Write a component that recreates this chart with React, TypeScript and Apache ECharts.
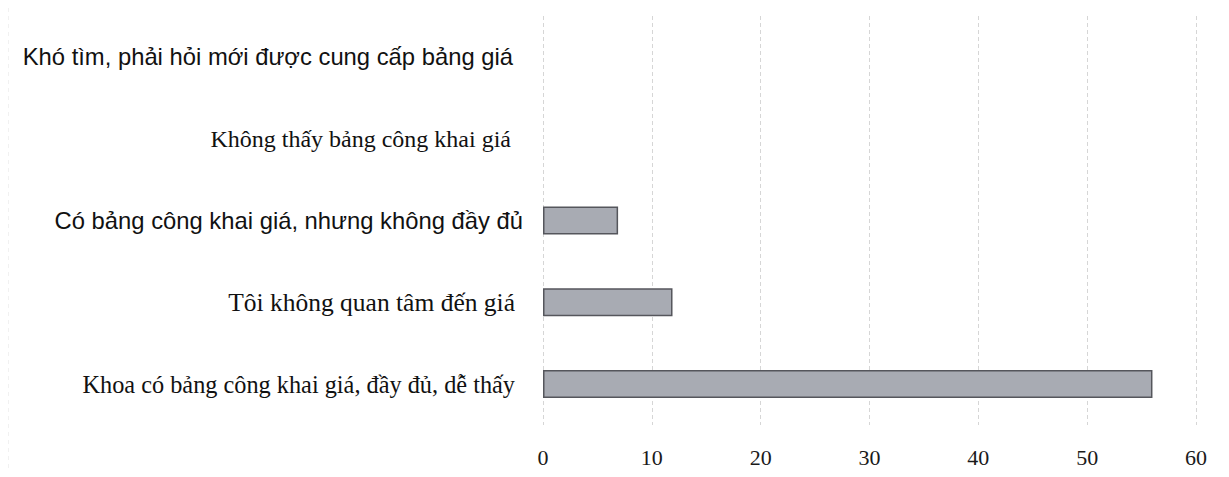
import React, { useEffect, useRef } from "react";
import * as echarts from "echarts";

const categories = [
  "Khoa có bảng công khai giá, đầy đủ, dễ thấy",
  "Tôi không quan tâm đến giá",
  "Có bảng công khai giá, nhưng không đầy đủ",
  "Không thấy bảng công khai giá",
  "Khó tìm, phải hỏi mới được cung cấp bảng giá",
];
const values = [56, 11.9, 6.9, 0, 0];
const sansLabels = [
  "Có bảng công khai giá, nhưng không đầy đủ",
  "Khó tìm, phải hỏi mới được cung cấp bảng giá",
];
const xTicks = [0, 10, 20, 30, 40, 50, 60];

export default function App() {
  const ref = useRef<HTMLDivElement>(null);
  useEffect(() => {
    if (!ref.current) return;
    const chart = echarts.init(ref.current, undefined, { renderer: "svg" });
    const labelStyleKey = (v: string) => {
      if (v === sansLabels[0]) return "s0";
      if (v === sansLabels[1]) return "s1";
      if (v === categories[3]) return "r3";
      if (v === categories[1]) return "r1";
      return "r";
    };
    chart.setOption({
      animation: false,
      backgroundColor: "#ffffff",
      grid: { left: 543, right: 33, top: 16, bottom: 52, containLabel: false },
      xAxis: {
        type: "value",
        min: xTicks[0],
        max: xTicks[xTicks.length - 1],
        interval: 10,
        axisLine: { show: false },
        axisTick: { show: false },
        axisLabel: {
          margin: 21,
          color: "#1a1a1a",
          fontFamily: "Liberation Serif",
          fontSize: 22,
        },
        splitLine: {
          show: true,
          lineStyle: { color: "#d6d6d6", type: [4, 3], width: 1 },
        },
      },
      yAxis: {
        type: "category",
        data: categories,
        axisLine: { show: false },
        axisTick: { show: false },
        axisLabel: {
          margin: 20,
          formatter: (v: string) => `{${labelStyleKey(v)}|${v}}`,
          rich: {
            s0: { fontFamily: "Liberation Sans", fontSize: 23.8, color: "#111", padding: [0, 0, 0, 0] },
            s1: { fontFamily: "Liberation Sans", fontSize: 23.8, color: "#111", padding: [0, 10, 0, 0] },
            r: { fontFamily: "Liberation Serif", fontSize: 24.3, color: "#111", padding: [0, 8, 0, 0] },
            r1: { fontFamily: "Liberation Serif", fontSize: 25.5, color: "#111", padding: [0, 8, 0, 0] },
            r3: { fontFamily: "Liberation Serif", fontSize: 24, color: "#111", padding: [0, 12, 0, 0] },
          },
        },
      },
      series: [
        {
          type: "bar",
          data: values.map((v) =>
            v === 0 ? { value: v, itemStyle: { borderWidth: 0, opacity: 0 } } : v
          ),
          barWidth: 28,
          itemStyle: {
            color: "#a8abb3",
            borderColor: "#55565c",
            borderWidth: 1.5,
          },
        },
      ],
      graphic: [
        {
          type: "line",
          shape: { x1: 8, y1: 0, x2: 8, y2: 477 },
          style: { stroke: "#e4e4e4", lineWidth: 1, lineDash: [4, 4] },
        },
      ],
    });
    return () => chart.dispose();
  }, []);
  return <div ref={ref} style={{ width: 1229, height: 477, margin: -8 }} />;
}
